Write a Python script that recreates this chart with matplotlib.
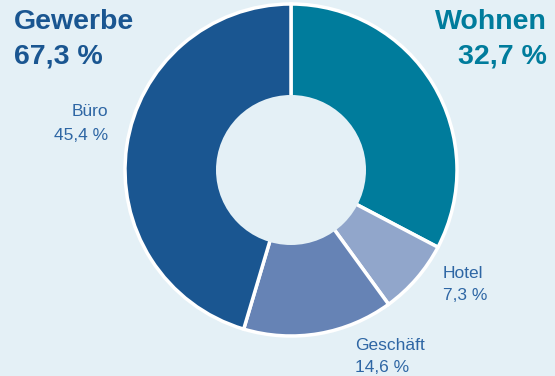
import matplotlib.pyplot as plt
from matplotlib.patches import Circle

plt.rcParams['font.family'] = ['Liberation Sans', 'DejaVu Sans']

# slices, clockwise from 12 o'clock
segments = ['Wohnen', 'Hotel', 'Geschäft', 'Büro']
shares = [32.7, 7.3, 14.6, 45.4]
colors = ['#007c9c', '#91a6cb', '#6683b5', '#1a5691']

groups = ['Gewerbe', 'Wohnen']
group_shares = ['67,3 %', '32,7 %']

bg = '#e4f0f6'
label_color = '#2e66a4'

fig = plt.figure(figsize=(5.55, 3.76), dpi=100, facecolor=bg)
ax = fig.add_axes([0, 0, 1, 1])
ax.set_facecolor(bg)

# y axis is flipped below, so angles run the other way
ax.pie(shares, colors=colors, startangle=-90, counterclock=True,
       center=(291, 170), radius=166,
       wedgeprops=dict(edgecolor='white', linewidth=2.5))
# hole in the middle
ax.add_patch(Circle((291, 170), 75, facecolor=bg, edgecolor='none', zorder=5))

ax.set_xlim(0, 555)
ax.set_ylim(376, 0)
ax.set_aspect('equal')
ax.axis('off')

# group headings
ax.text(14, 22, groups[0], color='#1a5691', fontsize=20.5, fontweight='bold', va='center', ha='left')
ax.text(14, 57, group_shares[0], color='#1a5691', fontsize=20.5, fontweight='bold', va='center', ha='left')
ax.text(547, 22, groups[1], color='#007c9c', fontsize=20.5, fontweight='bold', va='center', ha='right')
ax.text(547, 57, group_shares[1], color='#007c9c', fontsize=20.5, fontweight='bold', va='center', ha='right')

# slice labels
def lab(x, y, name, val, ha):
    ax.text(x, y, name, color=label_color, fontsize=12.5, va='center', ha=ha)
    ax.text(x, y + 23, f'{val:.1f} %'.replace('.', ','), color=label_color, fontsize=12.5, va='center', ha=ha)

lab(108, 112, segments[3], shares[3], 'right')
lab(443, 273, segments[1], shares[1], 'left')
lab(355, 345, segments[2], shares[2], 'left')

plt.savefig('out.png', dpi=100, facecolor=bg)
